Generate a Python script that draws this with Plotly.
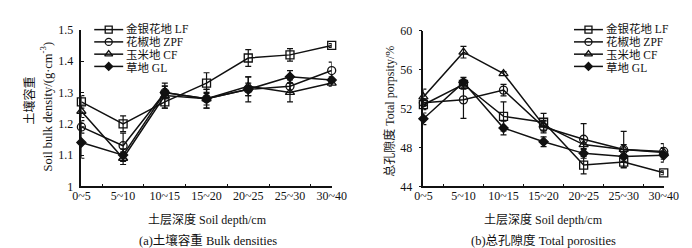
import plotly.graph_objects as go

depths = ["0~5", "5~10", "10~15", "15~20", "20~25", "25~30", "30~40"]
series_names = ["金银花地 LF", "花椒地 ZPF", "玉米地 CF", "草地 GL"]
symbols = ["square-open", "circle-open", "triangle-up-open", "diamond"]

# (a) bulk density, g/cm3
bd_LF = [1.27, 1.20, 1.27, 1.33, 1.41, 1.42, 1.45]
bd_ZPF = [1.19, 1.13, 1.30, 1.28, 1.31, 1.32, 1.37]
bd_CF = [1.24, 1.09, 1.29, 1.28, 1.32, 1.30, 1.33]
bd_GL = [1.14, 1.10, 1.30, 1.28, 1.31, 1.35, 1.34]
bd_err_LF = [0.02, 0.025, 0.02, 0.033, 0.027, 0.02, 0.006]
bd_err_ZPF = [0.02, 0.04, 0.02, 0.03, 0.04, 0.02, 0.027]
bd_err_CF = [0.02, 0.02, 0.04, 0.03, 0.03, 0.03, 0.01]
bd_err_GL = [0.05, 0.02, 0.02, 0.02, 0.02, 0.02, 0.01]

# (b) total porosity, %
tp_LF = [52.4, 54.5, 51.2, 50.6, 46.2, 46.5, 45.4]
tp_ZPF = [52.6, 52.9, 53.9, 50.1, 48.85, 47.8, 47.6]
tp_CF = [53.2, 57.8, 55.6, 50.3, 48.3, 47.8, 47.5]
tp_GL = [50.95, 54.7, 50.0, 48.6, 47.4, 47.07, 47.2]
tp_err_LF = [0.5, 0.5, 1.5, 0.9, 0.9, 0.6, 0.2]
tp_err_ZPF = [0.3, 1.9, 0.6, 0.6, 1.6, 1.85, 0.8]
tp_err_CF = [0.8, 0.6, 0.2, 0.5, 0.5, 0.5, 0.5]
tp_err_GL = [0.6, 0.5, 0.7, 0.5, 0.5, 0.5, 0.7]

bd = [bd_LF, bd_ZPF, bd_CF, bd_GL]
bd_err = [bd_err_LF, bd_err_ZPF, bd_err_CF, bd_err_GL]
tp = [tp_LF, tp_ZPF, tp_CF, tp_GL]
tp_err = [tp_err_LF, tp_err_ZPF, tp_err_CF, tp_err_GL]

FONT = "Liberation Serif, Times New Roman, Noto Sans CJK SC, serif"
BLACK = "#111111"
W, H = 692, 248


def px(x):
    return x / W


def py(y):
    return (H - y) / H


def msize(sym):
    return 7 if sym == "diamond" else 8


fig = go.Figure()
for xa, ya, vals, errs in (("x", "y", bd, bd_err), ("x2", "y2", tp, tp_err)):
    for i in range(4):
        fig.add_trace(go.Scatter(
            x=depths, y=vals[i], name=series_names[i], mode="lines+markers",
            line=dict(color=BLACK, width=1.5),
            marker=dict(symbol=symbols[i], size=msize(symbols[i]), color=BLACK,
                        line=dict(color=BLACK, width=1.3)),
            error_y=dict(type="data", array=errs[i], color=BLACK, thickness=1.2, width=3),
            xaxis=xa, yaxis=ya, showlegend=False, cliponaxis=False))

# ---- legend (layout: keys on a pixel-space overlay axis, labels in one text block) ----
LEG_LINE = 13            # row pitch in px (annotation font 10 -> 1.3 line spacing)
LEG_CENTER = 35          # block centre, px from top
legend_rows = [LEG_CENTER + (k - 1.5) * LEG_LINE for k in range(4)]
legend_boxes = [(80, 110, 112), (577, 607, 609)]  # line start, line end, text start
legend_text = "<br>".join('<span style="font-size:11.5px">%s</span>' % n for n in series_names)
for (lx0, lx1, tx) in legend_boxes:
    for i, ry in enumerate(legend_rows):
        fig.add_shape(type="line", xref="paper", yref="paper",
                      x0=px(lx0), x1=px(lx1), y0=py(ry), y1=py(ry),
                      line=dict(color=BLACK, width=1.5))
        fig.add_trace(go.Scatter(
            x=[(lx0 + lx1) / 2], y=[ry], mode="markers", xaxis="x3", yaxis="y3",
            marker=dict(symbol=symbols[i], size=msize(symbols[i]) - 1, color=BLACK,
                        line=dict(color=BLACK, width=1.3)),
            showlegend=False, hoverinfo="skip", cliponaxis=False))
    fig.add_annotation(xref="paper", yref="paper", x=px(tx), y=py(LEG_CENTER),
                       text=legend_text, showarrow=False, xanchor="left", align="left",
                       yanchor="middle", borderpad=0,
                       font=dict(family=FONT, size=10, color=BLACK))

xcommon = dict(type="category", range=[0, 6], showline=True, linecolor=BLACK, linewidth=1.5,
               ticks="inside", tickson="boundaries", ticklen=3, tickcolor=BLACK,
               showgrid=False, zeroline=False, ticklabelstandoff=-3,
               tickfont=dict(family=FONT, size=12, color=BLACK))
ycommon = dict(showline=True, linecolor=BLACK, linewidth=1.5, ticklen=3, tickcolor=BLACK,
               showgrid=False, zeroline=False, ticklabelstandoff=4,
               tickfont=dict(family=FONT, size=12, color=BLACK))

fig.update_layout(
    width=W, height=H, margin=dict(l=0, r=0, t=0, b=0),
    paper_bgcolor="white", plot_bgcolor="rgba(0,0,0,0)",
    font=dict(family=FONT, size=12, color=BLACK),
    showlegend=False,
    xaxis=dict(xcommon, domain=[px(66.7), px(326)], anchor="y"),
    yaxis=dict(ycommon, domain=[py(181.7), py(15.7)], range=[1, 1.5], dtick=0.1,
               ticks="inside", anchor="x"),
    xaxis2=dict(xcommon, domain=[px(421), px(670)], anchor="y2"),
    yaxis2=dict(ycommon, domain=[py(181.7), py(16.7)], range=[44, 60], dtick=4,
                ticks="outside", anchor="x2"),
    xaxis3=dict(domain=[0, 1], range=[0, W], visible=False, fixedrange=True, anchor="y3"),
    yaxis3=dict(domain=[0, 1], range=[H, 0], visible=False, fixedrange=True, anchor="x3"),
)

ann = [
    dict(x=px(197), y=py(217), text="土层深度 Soil depth/cm", size=12),
    dict(x=px(198), y=py(239), text="(a)土壤容重 Bulk densities", size=12.5),
    dict(x=px(545), y=py(217), text="土层深度 Soil depth/cm", size=12),
    dict(x=px(545), y=py(239), text="(b)总孔隙度 Total porosities", size=12.5),
    dict(x=px(13), y=py(91), text="土壤容重", size=12, textangle=-90),
    dict(x=px(30), y=py(97), text="Soil bulk density/(g·cm<sup>-3</sup>)", size=12.5, textangle=-90),
    dict(x=px(386), y=py(102), text="总孔隙度 Total porpsity/%", size=12, textangle=-90),
]
for a in ann:
    size = a.pop("size")
    fig.add_annotation(xref="paper", yref="paper", showarrow=False, xanchor="center",
                       yanchor="middle", font=dict(family=FONT, size=size, color=BLACK), **a)

fig.write_html("out.html")
